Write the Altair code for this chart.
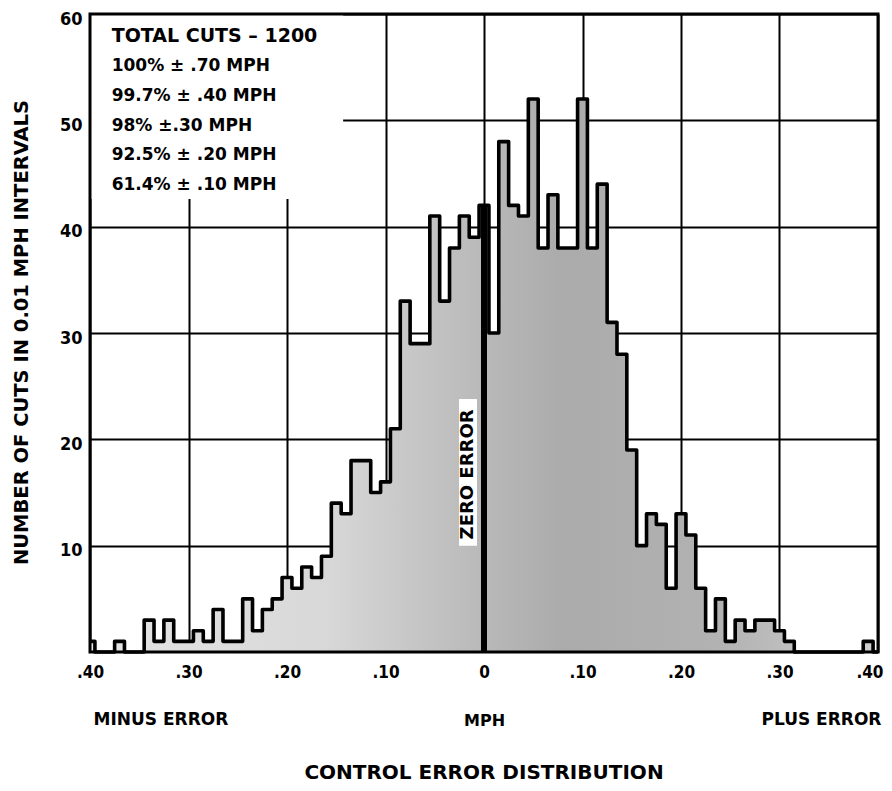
import altair as alt
import pandas as pd

# ---------------- data ----------------
bin_hundredths = list(range(-40, 41))          # bin centres in 0.01 MPH
counts = [
    1, 0, 0, 1, 0, 0, 3, 1, 3, 1,               # -0.40 .. -0.31
    1, 2, 1, 4, 1, 1, 5, 2, 4, 5,               # -0.30 .. -0.21
    7, 6, 8, 7, 9, 14, 13, 18, 18, 15,          # -0.20 .. -0.11
    16, 21, 33, 29, 29, 41, 33, 38, 41, 39,     # -0.10 .. -0.01
    42,                                         #  0.00
    30, 48, 42, 41, 52, 38, 43, 38, 38, 52,     #  0.01 .. 0.10
    38, 44, 31, 28, 19, 10, 13, 12, 6, 13,      #  0.11 .. 0.20
    11, 6, 2, 5, 1, 3, 2, 3, 3, 2,              #  0.21 .. 0.30
    1, 0, 0, 0, 0, 0, 0, 0, 1, 0,               #  0.31 .. 0.40
]

x_tick_values = [-0.4, -0.3, -0.2, -0.1, 0.0, 0.1, 0.2, 0.3, 0.4]
x_tick_labels = [".40", ".30", ".20", ".10", "0", ".10", ".20", ".30", ".40"]
y_tick_values = [10, 20, 30, 40, 50, 60]

legend_lines = [
    "TOTAL CUTS \u2013 1200",
    "100% \u00b1 .70 MPH",
    "99.7% \u00b1 .40 MPH",
    "98% \u00b1.30 MPH",
    "92.5% \u00b1 .20 MPH",
    "61.4% \u00b1 .10 MPH",
]
legend_y = [57.9, 55.1, 52.3, 49.5, 46.7, 43.9]
legend_x = [-0.378] * len(legend_lines)
legend_size = [19, 17, 17, 17, 17, 17]

bottom_labels = ["MINUS ERROR", "PLUS ERROR"]
bottom_label_x = [-0.328, 0.3426]

title_text = "CONTROL ERROR DISTRIBUTION"
y_title = "NUMBER OF CUTS IN 0.01 MPH INTERVALS"
x_title = "MPH"

# ---------------- tables ----------------
hist = pd.DataFrame({"x": [h / 100 for h in bin_hundredths], "count": counts})
zero_df = pd.DataFrame({"x": [0.0], "y": [0], "y2": [counts[bin_hundredths.index(0)]]})
legend_df = pd.DataFrame({"x": legend_x, "y": legend_y, "text": legend_lines, "size": legend_size})
legend_box = pd.DataFrame({"x": [-0.40], "x2": [-0.143], "y": [42.6], "y2": [60]})
zero_box = pd.DataFrame({"x": [-0.0254], "x2": [-0.0071], "y": [10.0], "y2": [23.8]})
zero_txt = pd.DataFrame({"x": [-0.0165], "y": [16.7], "text": ["ZERO ERROR"]})
frame_df = pd.DataFrame({"x": [-0.40], "x2": [0.40], "y": [0], "y2": [60]})
bottom_df = pd.DataFrame({"x": bottom_label_x, "text": bottom_labels})

FONT = "DejaVu Sans"
NUMFONT = "DejaVu Sans Condensed, DejaVu Sans"

xscale = alt.Scale(domain=[-0.4, 0.4], nice=False, zero=False)
yscale = alt.Scale(domain=[0, 60], nice=False, zero=False)

label_expr = "[" + ",".join("'" + t + "'" for t in x_tick_labels) + "][round((datum.value + 0.4) * 10)]"
last_tick = "datum.value > 0.35"

x_axis = alt.Axis(
    values=x_tick_values, labelExpr=label_expr, grid=True, gridColor="black",
    gridWidth=2, gridOpacity=1, domain=False, ticks=False, tickSize=0,
    labelPadding=12, labelFont=NUMFONT, labelFontSize=17, labelFontWeight="bold",
    labelColor="black", labelFlush=False, labelOverlap=False,
    labelAlign={"condition": {"test": last_tick, "value": "right"}, "value": "center"},
    labelOffset={"condition": {"test": last_tick, "value": 5}, "value": 0},
    title=x_title, titleFont=FONT, titleFontSize=16, titleFontWeight="bold",
    titleColor="black", titleY=68, titleBaseline="middle",
)
y_axis = alt.Axis(
    values=y_tick_values, grid=True, gridColor="black", gridWidth=2, gridOpacity=1,
    domain=False, ticks=False, tickSize=0, labelPadding=8, labelOffset=5,
    labelFont=NUMFONT, labelFontSize=18, labelFontWeight="bold", labelColor="black",
    labelFlush=False, labelOverlap=False,
    title=y_title, titleFont=FONT, titleFontSize=19.5, titleFontWeight="bold",
    titleColor="black", titleX=-69, titleY=318, titleAngle=-90,
    titleAlign="center", titleBaseline="middle",
)

fill = alt.LinearGradient(
    gradient="linear", x1=0, x2=1, y1=0, y2=0,
    stops=[
        alt.GradientStop(color="#e4e4e4", offset=0.0),
        alt.GradientStop(color="#d8d8d8", offset=0.3),
        alt.GradientStop(color="#c0c0c0", offset=0.45),
        alt.GradientStop(color="#ababab", offset=0.6),
        alt.GradientStop(color="#b2b2b2", offset=0.8),
        alt.GradientStop(color="#cfcfcf", offset=1.0),
    ],
)

area = alt.Chart(hist).mark_area(interpolate="step", color=fill).encode(
    x=alt.X("x:Q", scale=xscale, axis=x_axis),
    y=alt.Y("count:Q", scale=yscale, axis=y_axis),
)
outline = alt.Chart(hist).mark_line(
    interpolate="step", color="black", strokeWidth=3.6, strokeJoin="round"
).encode(x=alt.X("x:Q", scale=xscale), y=alt.Y("count:Q", scale=yscale))

zero_rule = alt.Chart(zero_df).mark_rule(color="black", strokeWidth=6).encode(
    x=alt.X("x:Q", scale=xscale), y=alt.Y("y:Q", scale=yscale), y2="y2:Q"
)
zbox = alt.Chart(zero_box).mark_rect(color="white").encode(
    x=alt.X("x:Q", scale=xscale), x2="x2:Q", y=alt.Y("y:Q", scale=yscale), y2="y2:Q"
)
ztext = alt.Chart(zero_txt).mark_text(
    angle=270, font=FONT, fontSize=18, fontWeight="bold", color="black",
    align="center", baseline="middle",
).encode(x=alt.X("x:Q", scale=xscale), y=alt.Y("y:Q", scale=yscale), text="text:N")

lbox = alt.Chart(legend_box).mark_rect(color="white").encode(
    x=alt.X("x:Q", scale=xscale), x2="x2:Q", y=alt.Y("y:Q", scale=yscale), y2="y2:Q"
)
ltext = alt.Chart(legend_df).mark_text(
    align="left", baseline="middle", font=FONT, fontWeight="bold", color="black"
).encode(
    x=alt.X("x:Q", scale=xscale), y=alt.Y("y:Q", scale=yscale), text="text:N",
    size=alt.Size("size:Q", scale=None, legend=None),
)

frame = alt.Chart(frame_df).mark_rect(fillOpacity=0, stroke="black", strokeWidth=3).encode(
    x=alt.X("x:Q", scale=xscale), x2="x2:Q", y=alt.Y("y:Q", scale=yscale), y2="y2:Q"
)

btext = alt.Chart(bottom_df).mark_text(
    align="center", baseline="middle", font=FONT, fontSize=17, fontWeight="bold", color="black"
).encode(x=alt.X("x:Q", scale=xscale), y=alt.value(706), text="text:N")

ttext = alt.Chart(pd.DataFrame({"text": [title_text]})).mark_text(
    align="center", baseline="middle", font=FONT, fontSize=20, fontWeight="bold", color="black"
).encode(x=alt.value(394), y=alt.value(759), text="text:N")

chart = alt.layer(
    area, outline, zero_rule, zbox, ztext, lbox, ltext, frame, btext, ttext
).properties(
    width=788, height=638,
    autosize=alt.AutoSizeParams(type="none"),
    padding={"left": 82, "top": 6, "right": 6, "bottom": 131},
    background="white",
).configure_view(strokeWidth=0)

chart.save("out.html", embed_options={"renderer": "svg", "actions": False})
